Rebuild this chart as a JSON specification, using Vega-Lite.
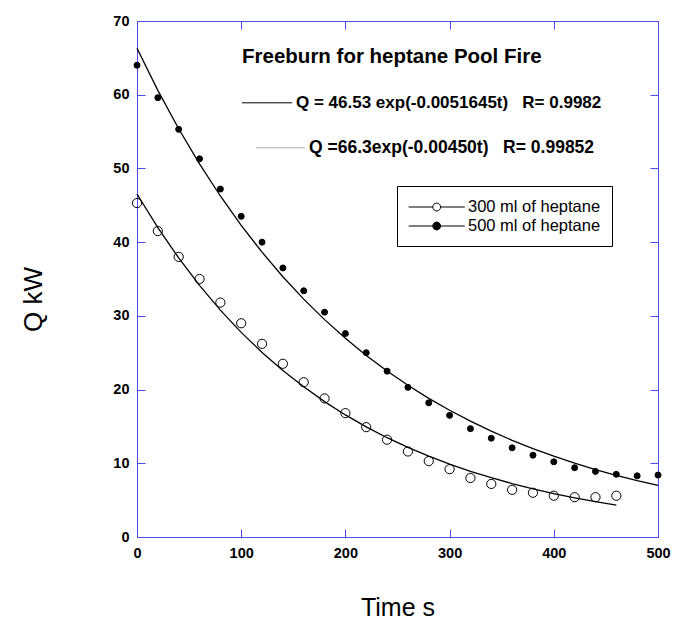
{
  "$schema": "https://vega.github.io/schema/vega-lite/v6.json",
  "width": 521,
  "height": 516,
  "autosize": {"type": "none"},
  "padding": {"left": 137, "top": 21, "right": 15, "bottom": 90},
  "background": "white",
  "config": {
    "font": "Liberation Sans",
    "view": {"stroke": "#4b4bf0", "strokeWidth": 1},
    "axis": {"grid": false}
  },
  "datasets": {
    "obs": [
      {"t": 0, "Q": 45.3, "series": "300 ml of heptane"},
      {"t": 20, "Q": 41.5, "series": "300 ml of heptane"},
      {"t": 40, "Q": 38.0, "series": "300 ml of heptane"},
      {"t": 60, "Q": 35.0, "series": "300 ml of heptane"},
      {"t": 80, "Q": 31.8, "series": "300 ml of heptane"},
      {"t": 100, "Q": 29.0, "series": "300 ml of heptane"},
      {"t": 120, "Q": 26.2, "series": "300 ml of heptane"},
      {"t": 140, "Q": 23.5, "series": "300 ml of heptane"},
      {"t": 160, "Q": 21.0, "series": "300 ml of heptane"},
      {"t": 180, "Q": 18.8, "series": "300 ml of heptane"},
      {"t": 200, "Q": 16.8, "series": "300 ml of heptane"},
      {"t": 220, "Q": 14.9, "series": "300 ml of heptane"},
      {"t": 240, "Q": 13.2, "series": "300 ml of heptane"},
      {"t": 260, "Q": 11.6, "series": "300 ml of heptane"},
      {"t": 280, "Q": 10.3, "series": "300 ml of heptane"},
      {"t": 300, "Q": 9.2, "series": "300 ml of heptane"},
      {"t": 320, "Q": 8.0, "series": "300 ml of heptane"},
      {"t": 340, "Q": 7.2, "series": "300 ml of heptane"},
      {"t": 360, "Q": 6.4, "series": "300 ml of heptane"},
      {"t": 380, "Q": 6.0, "series": "300 ml of heptane"},
      {"t": 400, "Q": 5.6, "series": "300 ml of heptane"},
      {"t": 420, "Q": 5.4, "series": "300 ml of heptane"},
      {"t": 440, "Q": 5.4, "series": "300 ml of heptane"},
      {"t": 460, "Q": 5.6, "series": "300 ml of heptane"},
      {"t": 0, "Q": 64.0, "series": "500 ml of heptane"},
      {"t": 20, "Q": 59.6, "series": "500 ml of heptane"},
      {"t": 40, "Q": 55.3, "series": "500 ml of heptane"},
      {"t": 60, "Q": 51.3, "series": "500 ml of heptane"},
      {"t": 80, "Q": 47.2, "series": "500 ml of heptane"},
      {"t": 100, "Q": 43.5, "series": "500 ml of heptane"},
      {"t": 120, "Q": 40.0, "series": "500 ml of heptane"},
      {"t": 140, "Q": 36.5, "series": "500 ml of heptane"},
      {"t": 160, "Q": 33.4, "series": "500 ml of heptane"},
      {"t": 180, "Q": 30.5, "series": "500 ml of heptane"},
      {"t": 200, "Q": 27.6, "series": "500 ml of heptane"},
      {"t": 220, "Q": 25.0, "series": "500 ml of heptane"},
      {"t": 240, "Q": 22.5, "series": "500 ml of heptane"},
      {"t": 260, "Q": 20.3, "series": "500 ml of heptane"},
      {"t": 280, "Q": 18.2, "series": "500 ml of heptane"},
      {"t": 300, "Q": 16.5, "series": "500 ml of heptane"},
      {"t": 320, "Q": 14.7, "series": "500 ml of heptane"},
      {"t": 340, "Q": 13.4, "series": "500 ml of heptane"},
      {"t": 360, "Q": 12.1, "series": "500 ml of heptane"},
      {"t": 380, "Q": 11.1, "series": "500 ml of heptane"},
      {"t": 400, "Q": 10.2, "series": "500 ml of heptane"},
      {"t": 420, "Q": 9.4, "series": "500 ml of heptane"},
      {"t": 440, "Q": 8.9, "series": "500 ml of heptane"},
      {"t": 460, "Q": 8.5, "series": "500 ml of heptane"},
      {"t": 480, "Q": 8.3, "series": "500 ml of heptane"},
      {"t": 500, "Q": 8.4, "series": "500 ml of heptane"}
    ],
    "fit": [
      {"t": 0, "Q": 46.53, "fit": "A"},
      {"t": 20, "Q": 41.96, "fit": "A"},
      {"t": 40, "Q": 37.85, "fit": "A"},
      {"t": 60, "Q": 34.13, "fit": "A"},
      {"t": 80, "Q": 30.78, "fit": "A"},
      {"t": 100, "Q": 27.76, "fit": "A"},
      {"t": 120, "Q": 25.04, "fit": "A"},
      {"t": 140, "Q": 22.58, "fit": "A"},
      {"t": 160, "Q": 20.37, "fit": "A"},
      {"t": 180, "Q": 18.37, "fit": "A"},
      {"t": 200, "Q": 16.56, "fit": "A"},
      {"t": 220, "Q": 14.94, "fit": "A"},
      {"t": 240, "Q": 13.47, "fit": "A"},
      {"t": 260, "Q": 12.15, "fit": "A"},
      {"t": 280, "Q": 10.96, "fit": "A"},
      {"t": 300, "Q": 9.88, "fit": "A"},
      {"t": 320, "Q": 8.91, "fit": "A"},
      {"t": 340, "Q": 8.04, "fit": "A"},
      {"t": 360, "Q": 7.25, "fit": "A"},
      {"t": 380, "Q": 6.54, "fit": "A"},
      {"t": 400, "Q": 5.90, "fit": "A"},
      {"t": 420, "Q": 5.32, "fit": "A"},
      {"t": 440, "Q": 4.80, "fit": "A"},
      {"t": 460, "Q": 4.32, "fit": "A"},
      {"t": 0, "Q": 66.3, "fit": "B"},
      {"t": 20, "Q": 60.59, "fit": "B"},
      {"t": 40, "Q": 55.38, "fit": "B"},
      {"t": 60, "Q": 50.61, "fit": "B"},
      {"t": 80, "Q": 46.26, "fit": "B"},
      {"t": 100, "Q": 42.27, "fit": "B"},
      {"t": 120, "Q": 38.64, "fit": "B"},
      {"t": 140, "Q": 35.31, "fit": "B"},
      {"t": 160, "Q": 32.27, "fit": "B"},
      {"t": 180, "Q": 29.49, "fit": "B"},
      {"t": 200, "Q": 26.96, "fit": "B"},
      {"t": 220, "Q": 24.63, "fit": "B"},
      {"t": 240, "Q": 22.51, "fit": "B"},
      {"t": 260, "Q": 20.58, "fit": "B"},
      {"t": 280, "Q": 18.81, "fit": "B"},
      {"t": 300, "Q": 17.19, "fit": "B"},
      {"t": 320, "Q": 15.71, "fit": "B"},
      {"t": 340, "Q": 14.36, "fit": "B"},
      {"t": 360, "Q": 13.12, "fit": "B"},
      {"t": 380, "Q": 11.99, "fit": "B"},
      {"t": 400, "Q": 10.96, "fit": "B"},
      {"t": 420, "Q": 10.02, "fit": "B"},
      {"t": 440, "Q": 9.15, "fit": "B"},
      {"t": 460, "Q": 8.37, "fit": "B"},
      {"t": 480, "Q": 7.64, "fit": "B"},
      {"t": 500, "Q": 6.99, "fit": "B"}
    ],
    "notes": [{"n": 1}]
  },
  "resolve": {"axis": {"x": "independent", "y": "independent"}},
  "layer": [
    {
      "data": {"name": "fit"},
      "mark": {"type": "line", "color": "black", "strokeWidth": 1.3},
      "encoding": {
        "x": {"field": "t", "type": "quantitative",
          "scale": {"domain": [0, 500], "nice": false, "zero": false},
          "axis": {"orient": "bottom", "values": [0, 100, 200, 300, 400, 500], "title": "Time s",
            "titleFont": "Liberation Sans", "titleFontSize": 25, "titleFontWeight": "normal", "titleColor": "black", "titlePadding": 36,
            "labelFont": "Liberation Sans", "labelFontSize": 14.5, "labelFontWeight": "bold", "labelColor": "black", "labelPadding": 17, "labelFlush": false,
            "domainColor": "#4b4bf0", "tickColor": "#4b4bf0", "tickSize": -8}},
        "y": {"field": "Q", "type": "quantitative",
          "scale": {"domain": [0, 70], "nice": false},
          "axis": {"orient": "left", "values": [0, 10, 20, 30, 40, 50, 60, 70], "title": "Q kW",
            "titleFont": "Liberation Sans", "titleFontSize": 26, "titleFontWeight": "normal", "titleColor": "black",
            "titleX": -91, "titleY": 278,
            "labelFont": "Liberation Sans", "labelFontSize": 14.5, "labelFontWeight": "bold", "labelColor": "black", "labelPadding": 16, "labelFlush": false,
            "domainColor": "#4b4bf0", "tickColor": "#4b4bf0", "tickSize": -8}},
        "detail": {"field": "fit"}
      }
    },
    {
      "data": {"name": "obs"},
      "mark": {"type": "point", "filled": true, "stroke": "black", "strokeWidth": 1, "opacity": 1},
      "encoding": {
        "x": {"field": "t", "type": "quantitative", "axis": {"orient": "top", "labels": false, "title": null, "domainColor": "#4b4bf0", "tickColor": "#4b4bf0", "tickSize": -8, "values": [0, 100, 200, 300, 400, 500]}},
        "y": {"field": "Q", "type": "quantitative", "axis": {"orient": "right", "labels": false, "title": null, "domainColor": "#4b4bf0", "tickColor": "#4b4bf0", "tickSize": -8, "values": [0, 10, 20, 30, 40, 50, 60, 70]}},
        "fill": {"field": "series", "type": "nominal",
          "scale": {"domain": ["300 ml of heptane", "500 ml of heptane"], "range": ["rgba(255,255,255,0)", "black"]},
          "legend": {"orient": "none", "legendX": 260, "legendY": 165, "title": null,
            "strokeColor": "black", "padding": 11, "fillColor": "white",
            "symbolType": "M-1,0H1.58M2.42,0H5M2.42,0A0.42,0.42 0 1,1 1.58,0A0.42,0.42 0 1,1 2.42,0",
            "symbolSize": 350, "symbolStrokeColor": "black", "symbolStrokeWidth": 1,
            "labelFont": "Liberation Sans", "labelFontSize": 16.5, "labelColor": "black", "labelOffset": 40,
            "rowPadding": 0}},
        "size": {"condition": {"test": "datum.series === '500 ml of heptane'", "value": 36}, "value": 85}
      }
    },
    {
      "data": {"name": "notes"},
      "mark": {"type": "text", "align": "left", "baseline": "middle", "fontSize": 20.5, "fontWeight": "bold", "font": "Liberation Sans", "color": "black"},
      "encoding": {
        "x": {"datum": 100.8, "type": "quantitative", "axis": null},
        "y": {"datum": 65.1, "type": "quantitative", "axis": null},
        "text": {"value": "Freeburn for heptane Pool Fire"}
      }
    },
    {
      "data": {"name": "notes"},
      "mark": {"type": "text", "align": "left", "baseline": "middle", "fontSize": 17, "fontWeight": "bold", "font": "Liberation Sans", "color": "black"},
      "encoding": {
        "x": {"datum": 152.6, "type": "quantitative", "axis": null},
        "y": {"datum": 58.9, "type": "quantitative", "axis": null},
        "text": {"value": "Q = 46.53 exp(-0.0051645t)\u00a0\u00a0\u00a0R= 0.9982"}
      }
    },
    {
      "data": {"name": "notes"},
      "mark": {"type": "text", "align": "left", "baseline": "middle", "fontSize": 17.5, "fontWeight": "bold", "font": "Liberation Sans", "color": "black"},
      "encoding": {
        "x": {"datum": 165.1, "type": "quantitative", "axis": null},
        "y": {"datum": 52.8, "type": "quantitative", "axis": null},
        "text": {"value": "Q =66.3exp(-0.00450t)\u00a0\u00a0\u00a0R= 0.99852"}
      }
    },
    {
      "data": {"name": "notes"},
      "mark": {"type": "rule", "color": "black", "strokeWidth": 1},
      "encoding": {
        "x": {"datum": 100.8, "type": "quantitative", "axis": null},
        "x2": {"datum": 148.8},
        "y": {"datum": 58.9, "type": "quantitative", "axis": null}
      }
    },
    {
      "data": {"name": "notes"},
      "mark": {"type": "rule", "color": "#aaaaaa", "strokeWidth": 1},
      "encoding": {
        "x": {"datum": 114.2, "type": "quantitative", "axis": null},
        "x2": {"datum": 161.2},
        "y": {"datum": 52.8, "type": "quantitative", "axis": null}
      }
    }
  ]
}
